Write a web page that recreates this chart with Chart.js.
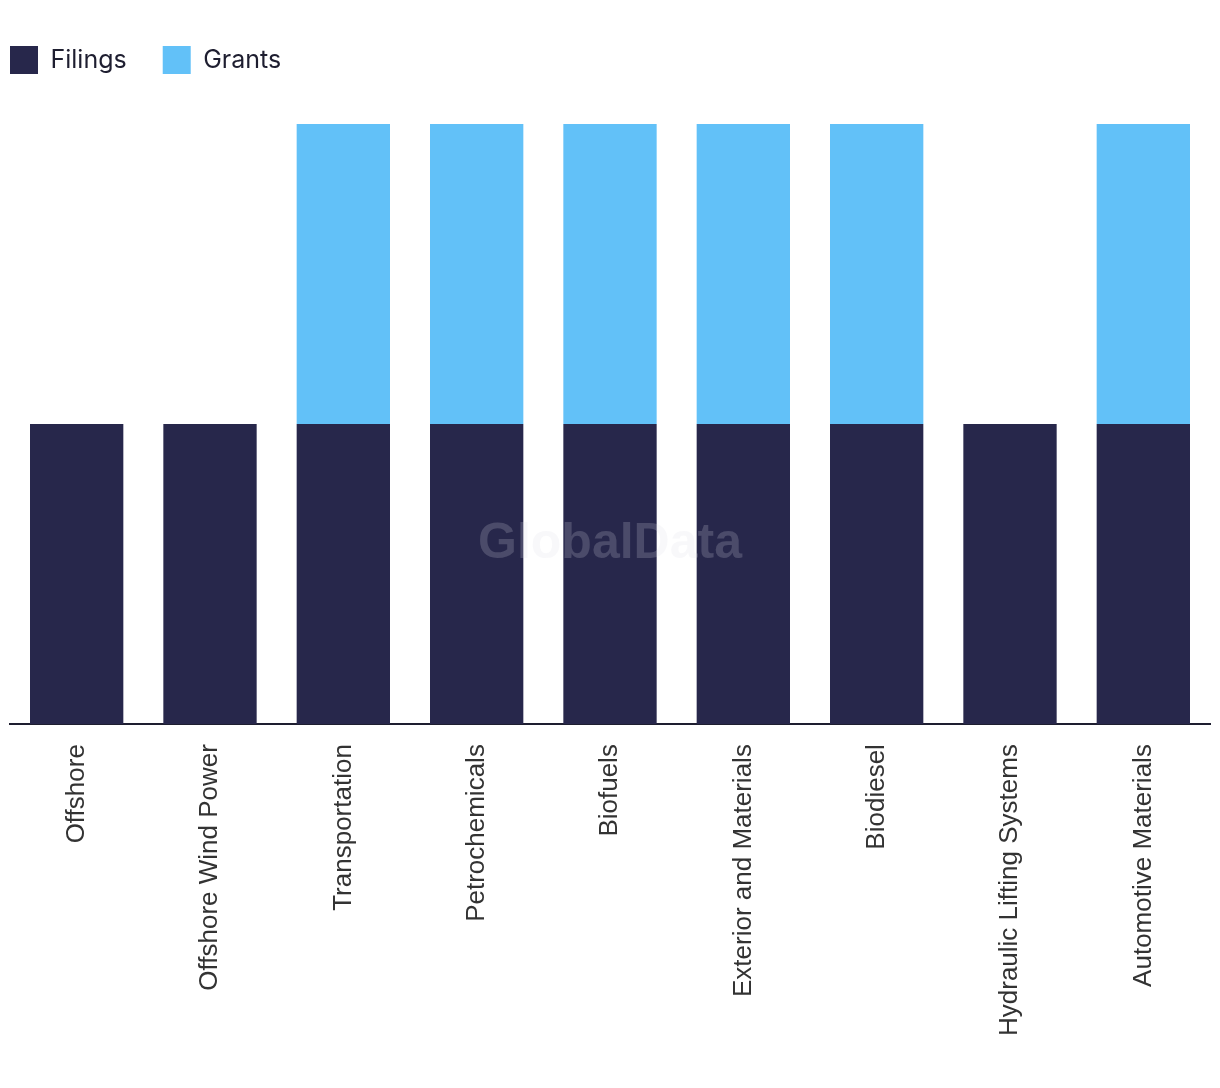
<!DOCTYPE html>
<html>
<head>
<meta charset="utf-8">
<script src="https://cdn.jsdelivr.net/npm/chart.js@4.4.1/dist/chart.umd.min.js"></script>
<style>
  body { margin: 0; background: #fff; }
  #wrap { width: 1220px; height: 1088px; }
</style>
</head>
<body>
<div id="wrap"><canvas id="chart" width="1220" height="1088"></canvas></div>
<script>
const categories = ['Offshore', 'Offshore Wind Power', 'Transportation', 'Petrochemicals', 'Biofuels',
    'Exterior and Materials', 'Biodiesel', 'Hydraulic Lifting Systems', 'Automotive Materials'];
const filings = [1, 1, 1, 1, 1, 1, 1, 1, 1];
const grants = [0, 0, 1, 1, 1, 1, 1, 0, 1];

const LEGEND_PAD = 36;

// legend sizing / placement tweaks
const legendTweak = {
    id: 'legendTweak',
    beforeInit(chart) {
        const origFit = chart.legend.fit;
        chart.legend.fit = function () {
            origFit.bind(chart.legend)();
            this.height = 124; // chart area starts under the legend
        };
    },
    afterLayout(chart) {
        chart.legend.left = 10 - LEGEND_PAD;
        chart.legend.top = 46 - LEGEND_PAD;
    }
};

// faint watermark over the bars
const watermark = {
    id: 'watermark',
    afterDraw(chart) {
        const ctx = chart.ctx;
        ctx.save();
        ctx.font = 'bold 50px "Liberation Sans", Arial, sans-serif';
        ctx.fillStyle = 'rgba(220, 220, 232, 0.2)';
        ctx.textAlign = 'center';
        ctx.textBaseline = 'middle';
        ctx.fillText('GlobalData', 610, 544);
        ctx.restore();
    }
};

const ctx = document.getElementById('chart').getContext('2d');
new Chart(ctx, {
    type: 'bar',
    data: {
        labels: categories,
        datasets: [
            {
                label: 'Filings',
                data: filings,
                backgroundColor: '#27274b',
                categoryPercentage: 1,
                barPercentage: 0.7
            },
            {
                label: 'Grants',
                data: grants,
                backgroundColor: '#62c1f8',
                categoryPercentage: 1,
                barPercentage: 0.7
            }
        ]
    },
    options: {
        responsive: false,
        animation: false,
        layout: {
            padding: { top: 0, left: 10, right: 10, bottom: 40 }
        },
        plugins: {
            tooltip: { enabled: false },
            legend: {
                position: 'top',
                align: 'start',
                labels: {
                    boxWidth: 28,
                    boxHeight: 28,
                    padding: LEGEND_PAD,
                    color: '#1e1e30',
                    font: { family: 'Inter, "Noto Sans", sans-serif', size: 25 }
                }
            }
        },
        scales: {
            x: {
                stacked: true,
                grid: { display: false },
                border: { display: true, color: '#1e1e30', width: 2 },
                ticks: {
                    minRotation: 90,
                    maxRotation: 90,
                    padding: 12,
                    color: '#333333',
                    font: { family: '"Liberation Sans", Arial, sans-serif', size: 26 }
                }
            },
            y: {
                stacked: true,
                display: false,
                min: 0,
                max: 2
            }
        }
    },
    plugins: [legendTweak, watermark]
});
</script>
</body>
</html>
